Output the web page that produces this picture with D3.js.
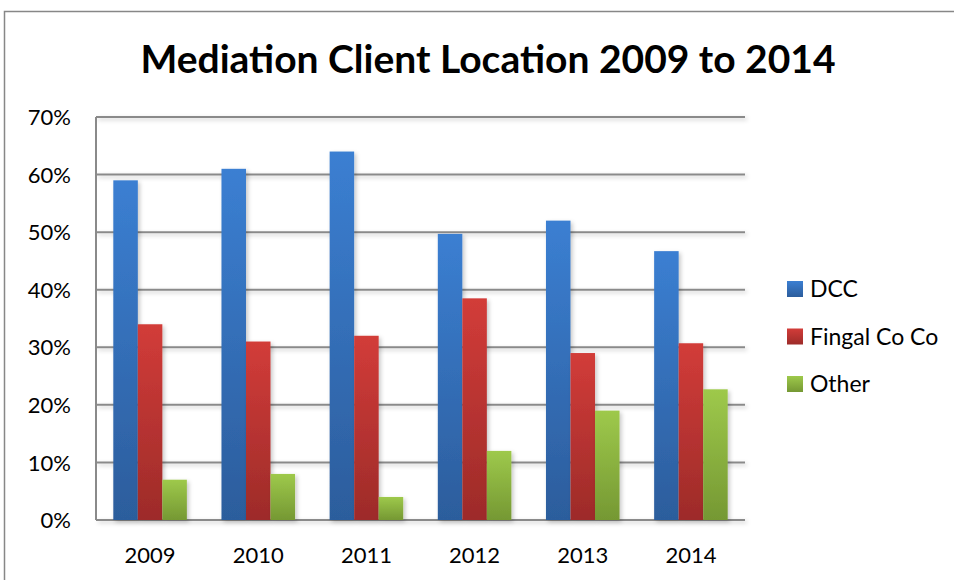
<!DOCTYPE html>
<html>
<head>
<meta charset="utf-8">
<script src="https://cdn.jsdelivr.net/npm/d3@7"></script>
<style>
  body { margin: 0; background: #fff; }
  text { font-family: Lato, "Open Sans", sans-serif; fill: #000; }
</style>
</head>
<body>
<div id="chart"></div>
<script>
const years = ['2009', '2010', '2011', '2012', '2013', '2014'];
const seriesNames = ['DCC', 'Fingal Co Co', 'Other'];
const dcc = [0.59, 0.61, 0.64, 0.497, 0.52, 0.467];
const fingal = [0.34, 0.31, 0.32, 0.385, 0.29, 0.307];
const other = [0.07, 0.08, 0.04, 0.12, 0.19, 0.227];
const yTicks = [0, 0.1, 0.2, 0.3, 0.4, 0.5, 0.6, 0.7];

const colors = [
  { top: '#3b7fd2', bottom: '#2c5d9c' },
  { top: '#d23c39', bottom: '#9d2b29' },
  { top: '#9ec94b', bottom: '#759833' }
];

const width = 954, height = 580;
const margin = { left: 96, right: 209, top: 117, bottom: 60 };

const svg = d3.select('#chart').append('svg')
  .attr('width', width)
  .attr('height', height);

const defs = svg.append('defs');
colors.forEach((c, i) => {
  const g = defs.append('linearGradient')
    .attr('id', 'grad' + i)
    .attr('x1', 0).attr('y1', 0).attr('x2', 0).attr('y2', 1);
  g.append('stop').attr('offset', '0%').attr('stop-color', c.top);
  g.append('stop').attr('offset', '100%').attr('stop-color', c.bottom);
});
// shadow filter in user space so it also works on flat gridlines
const shadow = defs.append('filter').attr('id', 'shadow')
  .attr('filterUnits', 'userSpaceOnUse')
  .attr('x', 0).attr('y', 0).attr('width', width).attr('height', height);
shadow.append('feDropShadow')
  .attr('dx', 2).attr('dy', 2).attr('stdDeviation', 2)
  .attr('flood-color', '#000').attr('flood-opacity', 0.22);

// outer chart border
svg.append('path')
  .attr('d', 'M4.5,580 V11.5 H954')
  .attr('fill', 'none')
  .attr('stroke', '#878787')
  .attr('stroke-width', 1.5);

svg.append('text')
  .attr('x', 488)
  .attr('y', 73)
  .attr('text-anchor', 'middle')
  .style('font-size', '39px')
  .style('font-weight', 'bold')
  .text('Mediation Client Location 2009 to 2014');

const x = d3.scaleBand()
  .domain(years)
  .range([margin.left, width - margin.right])
  .paddingInner(0.32)
  .paddingOuter(0.16);

const xs = d3.scaleBand()
  .domain(d3.range(3))
  .range([0, x.bandwidth()]);

const y = d3.scaleLinear()
  .domain([0, 0.7])
  .range([height - margin.bottom, margin.top]);

// gridlines
svg.append('g')
  .attr('filter', 'url(#shadow)')
  .selectAll('line')
  .data(yTicks)
  .join('line')
  .attr('x1', margin.left)
  .attr('x2', width - margin.right)
  .attr('y1', d => y(d))
  .attr('y2', d => y(d))
  .attr('stroke', '#8a8a8a')
  .attr('stroke-width', 2);

svg.append('line')
  .attr('x1', margin.left).attr('x2', margin.left)
  .attr('y1', y(0.7)).attr('y2', y(0))
  .attr('stroke', '#8a8a8a')
  .attr('stroke-width', 2);

const yAxis = svg.append('g')
  .attr('transform', `translate(${margin.left},0)`)
  .call(d3.axisLeft(y).tickValues(yTicks).tickFormat(d3.format('.0%')).tickSize(0).tickPadding(25));
yAxis.select('.domain').remove();
yAxis.selectAll('text').style('font-size', '22px').attr('dy', '0.35em');

const xAxis = svg.append('g')
  .attr('transform', `translate(0,${y(0)})`)
  .call(d3.axisBottom(x).tickSize(0).tickPadding(27));
xAxis.select('.domain').remove();
xAxis.selectAll('text').style('font-size', '22px');

const data = [dcc, fingal, other];
const groups = svg.append('g')
  .selectAll('g')
  .data(data)
  .join('g')
  .attr('fill', (d, i) => `url(#grad${i})`);

groups.each(function (vals, si) {
  d3.select(this).selectAll('rect')
    .data(vals)
    .join('rect')
    .attr('x', (d, i) => x(years[i]) + xs(si))
    .attr('width', xs.bandwidth())
    .attr('y', d => y(d))
    .attr('height', d => y(0) - y(d))
    .attr('filter', 'url(#shadow)');
});

const legend = svg.append('g')
  .selectAll('g')
  .data(seriesNames)
  .join('g')
  .attr('transform', (d, i) => `translate(787,${289 + i * 47.5})`);

legend.append('rect')
  .attr('x', 0).attr('y', -8)
  .attr('width', 16).attr('height', 16)
  .attr('fill', (d, i) => `url(#grad${i})`);

legend.append('text')
  .attr('x', 23)
  .attr('dy', '0.36em')
  .style('font-size', '23px')
  .text(d => d);
</script>
</body>
</html>
